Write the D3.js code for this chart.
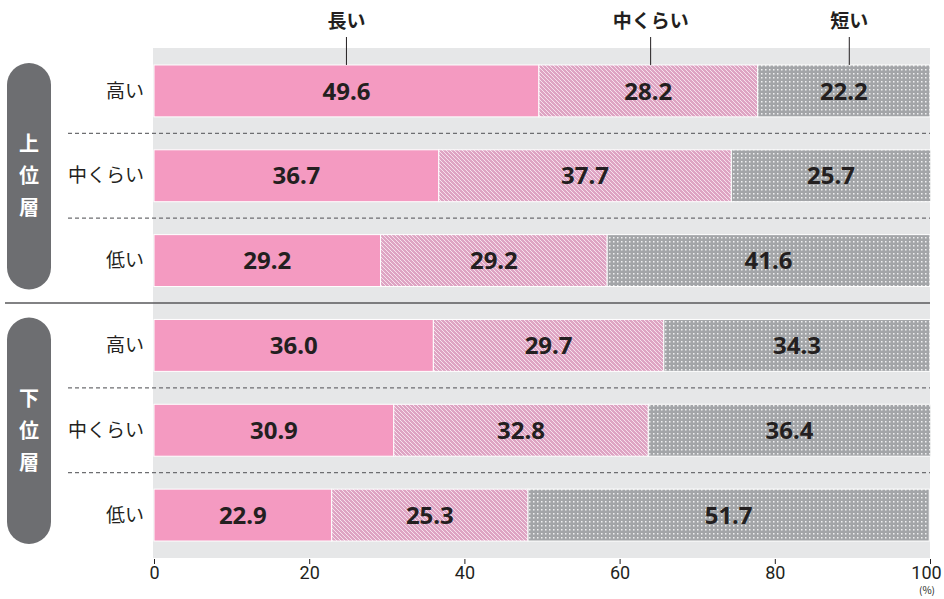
<!DOCTYPE html>
<html>
<head>
<meta charset="utf-8">
<script src="https://cdn.jsdelivr.net/npm/d3@7"></script>
<style>
body { margin: 0; background: #fff; }
svg text { font-family: "Noto Sans CJK JP", "Noto Sans", sans-serif; }
</style>
</head>
<body>
<svg id="chart" width="944" height="599"></svg>
<script>
var width = 944,
height = 599;

// data
var groups = ["上位層", "下位層"];
var rowLabels = ["高い", "中くらい", "低い"];
var seriesNames = ["長い", "中くらい", "短い"];
var longVals = [49.6, 36.7, 29.2, 36.0, 30.9, 22.9];
var midVals = [28.2, 37.7, 29.2, 29.7, 32.8, 25.3];
var shortVals = [22.2, 25.7, 41.6, 34.3, 36.4, 51.7];
var legendPos = [24.8, 64, 89.6];
var tickVals = [0, 20, 40, 60, 80, 100];

var rows = [];
groups.forEach(function (g, gi) {
  rowLabels.forEach(function (r, ri) {
    var i = gi * 3 + ri;
    rows.push({id: g + "-" + r, group: g, label: r, vals: [longVals[i], midVals[i], shortVals[i]]});
  });
});

var svg = d3.select("#chart");
var defs = svg.append("defs");

// hatch pattern
var hatch = defs.append("pattern")
.attr("id", "hatch")
.attr("patternUnits", "userSpaceOnUse")
.attr("width", 4).attr("height", 4);
hatch.append("rect").attr("width", 4).attr("height", 4).attr("fill", "#dea4c3");
hatch.append("path")
.attr("d", "M0,0L4,4M-1,3L1,5M3,-1L5,1")
.attr("stroke", "#f8e8f0").attr("stroke-width", 0.9);

// dot pattern
var dots = defs.append("pattern")
.attr("id", "dots")
.attr("patternUnits", "userSpaceOnUse")
.attr("width", 4).attr("height", 4);
dots.append("rect").attr("width", 4).attr("height", 4).attr("fill", "#a3a5a8");
dots.append("rect").attr("x", 1).attr("y", 1).attr("width", 1.5).attr("height", 1.5).attr("fill", "#f0f0f1");

var fills = ["#f49ac1", "url(#hatch)", "url(#dots)"];

var x = d3.scaleLinear().domain([0, 100]).range([154, 930]);
var y = d3.scaleBand()
.domain(rows.map(function (d) { return d.id; }))
.range([48, 558])
.paddingInner(0.388)
.paddingOuter(0.2);
var bw = y.bandwidth();
var gap = y.step() - bw;

// grey background
svg.append("rect")
.attr("x", 153).attr("y", 48)
.attr("width", 930 - 153).attr("height", 558 - 48)
.attr("fill", "#e6e7e8");

// dashed separators within groups
rows.forEach(function (d, i) {
  if (i % 3 == 2) return;
  var yy = y(d.id) + bw + gap / 2;
  svg.append("line")
  .attr("x1", 68).attr("x2", 930)
  .attr("y1", yy).attr("y2", yy)
  .attr("stroke", "#6d6e71")
  .attr("stroke-width", 1.2)
  .attr("stroke-dasharray", "4,3");
});

// solid separator between groups
var sepY = y(rows[2].id) + bw + gap / 2;
svg.append("line")
.attr("x1", 5).attr("x2", 930)
.attr("y1", sepY).attr("y2", sepY)
.attr("stroke", "#58595b")
.attr("stroke-width", 1.5);

// bars
var stacked = rows.map(function (d) {
  var acc = 0;
  return d.vals.map(function (v, k) {
    var s = {row: d.id, k: k, v: v, x0: acc, x1: acc + v};
    acc += v;
    return s;
  });
});

var rowG = svg.selectAll("g.row")
.data(stacked)
.enter().append("g")
.attr("class", "row");

rowG.selectAll("rect")
.data(function (d) { return d; })
.enter().append("rect")
.attr("x", function (d) { return x(d.x0); })
.attr("y", function (d) { return y(d.row); })
.attr("width", function (d) { return x(d.x1) - x(d.x0); })
.attr("height", bw)
.attr("fill", function (d) { return fills[d.k]; })
.attr("stroke", "#fff")
.attr("stroke-width", 1);

rowG.selectAll("text")
.data(function (d) { return d; })
.enter().append("text")
.attr("x", function (d) { return (x(d.x0) + x(d.x1)) / 2; })
.attr("y", function (d) { return y(d.row) + bw / 2; })
.attr("dy", "0.36em")
.attr("text-anchor", "middle")
.attr("font-size", "24px")
.attr("font-weight", "bold")
.attr("fill", "#231f20")
.style("font-family", "'Noto Sans', sans-serif")
.text(function (d) { return d.v.toFixed(1); });

// row labels
svg.selectAll("text.rowlabel")
.data(rows)
.enter().append("text")
.attr("class", "rowlabel")
.attr("x", 144)
.attr("y", function (d) { return y(d.id) + bw / 2; })
.attr("dy", "0.35em")
.attr("text-anchor", "end")
.attr("font-size", "19px")
.attr("fill", "#231f20")
.text(function (d) { return d.label; });

// group pills
groups.forEach(function (g, gi) {
  var top = y(rows[gi * 3].id) - 2,
  bottom = y(rows[gi * 3 + 2].id) + bw + 3;
  svg.append("rect")
  .attr("x", 7).attr("y", top)
  .attr("width", 44).attr("height", bottom - top)
  .attr("rx", 22).attr("ry", 22)
  .attr("fill", "#6d6e71");
  var cy = (top + bottom) / 2;
  g.split("").forEach(function (ch, ci) {
    svg.append("text")
    .attr("x", 29)
    .attr("y", cy + (ci - 1) * 32)
    .attr("dy", "0.36em")
    .attr("text-anchor", "middle")
    .attr("font-size", "20px")
    .attr("font-weight", "bold")
    .attr("fill", "#fff")
    .text(ch);
  });
});

// legend labels with leader lines
seriesNames.forEach(function (s, i) {
  var lx = x(legendPos[i]);
  svg.append("line")
  .attr("x1", lx).attr("x2", lx)
  .attr("y1", 37).attr("y2", y(rows[0].id))
  .attr("stroke", "#231f20")
  .attr("stroke-width", 1);
  svg.append("text")
  .attr("x", lx)
  .attr("y", 21)
  .attr("dy", "0.35em")
  .attr("text-anchor", "middle")
  .attr("font-size", "19px")
  .attr("font-weight", "bold")
  .attr("fill", "#231f20")
  .text(s);
});

// x axis
var axis = svg.append("g")
.attr("transform", "translate(0,559)")
.call(d3.axisBottom(x).tickValues(tickVals).tickSize(5).tickPadding(2));
axis.select(".domain").remove();
axis.selectAll(".tick line").attr("stroke", "#231f20");
axis.selectAll(".tick text")
.attr("font-size", "18px")
.attr("fill", "#231f20")
.style("font-family", "'Liberation Sans Narrow', 'Roboto', sans-serif");
// keep the last label inside the page
axis.selectAll(".tick text")
.filter(function (d) { return d == 100; })
.attr("x", -4);

svg.append("text")
.attr("x", 927)
.attr("y", 594)
.attr("text-anchor", "middle")
.attr("font-size", "10px")
.attr("fill", "#231f20")
.text("(%)");
</script>
</body>
</html>
